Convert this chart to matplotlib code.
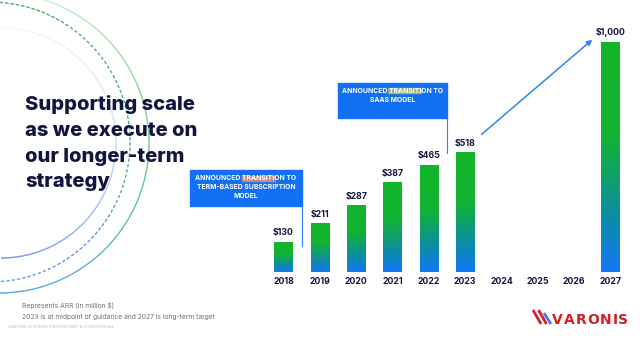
import numpy as np
import matplotlib.pyplot as plt
from matplotlib.colors import LinearSegmentedColormap
from matplotlib.collections import LineCollection
from matplotlib.patches import Rectangle
from matplotlib.transforms import IdentityTransform

plt.rcParams['font.family'] = ['Inter', 'DejaVu Sans']

# ARR in million $, 2024-2026 have no bar
years = ['2018', '2019', '2020', '2021', '2022', '2023', '2024', '2025', '2026', '2027']
arr = [130, 211, 287, 387, 465, 518, np.nan, np.nan, np.nan, 1000]

title_lines = ['Supporting scale', 'as we execute on', 'our longer-term', 'strategy']
notes = ['Represents ARR (in million $)',
         '2023 is at midpoint of guidance and 2027 is long-term target']
box1_lines = ['ANNOUNCED TRANSITION TO', 'TERM-BASED SUBSCRIPTION', 'MODEL']
box2_lines = ['ANNOUNCED TRANSITION TO', 'SAAS MODEL']

navy = '#11153f'
box_blue = '#1170f3'
bar_cmap = LinearSegmentedColormap.from_list(
    'bar', [(0, '#1477f8'), (0.22, '#0b8bab'), (0.45, '#10a45e'), (0.6, '#12b331'), (1, '#12b52a')])

fig = plt.figure(figsize=(6.4, 3.4), dpi=100)

# background layer in pixel units
bg = fig.add_axes([0, 0, 1, 1])
bg.set_xlim(0, 640)
bg.set_ylim(340, 0)
bg.axis('off')


def ring(cx, cy, r, colors, lw, dash=None):
    t = np.linspace(-np.pi / 2, np.pi / 2, 900)
    pts = np.column_stack([cx + r * np.cos(t), cy - r * np.sin(t)])
    segs = np.stack([pts[:-1], pts[1:]], axis=1)
    cols = LinearSegmentedColormap.from_list('', colors)(np.linspace(0, 1, len(segs)))
    if dash:
        s = np.arange(len(segs)) * (np.pi * r / len(segs))
        keep = (s % (dash[0] + dash[1])) < dash[0]
        segs, cols = segs[keep], cols[keep]
    bg.add_collection(LineCollection(segs, colors=cols, linewidths=lw))


ring(1, 143, 115, ['#3a66f2', '#6d95f5', '#b9d0fa', '#e2ecfd', '#f4f8fe'], 0.9)
ring(-1, 143, 150, ['#2b7cf6', '#1aa6a0', '#2fc05a', '#86da95', '#e3f6e5'], 0.9)
ring(-10, 142, 140, ['#2c6cf2', '#2a72e0', '#1f8a6a', '#1c8c40', '#1a8a3a'], 0.9, dash=(3.2, 2.2))

for i, line in enumerate(title_lines):
    bg.text(25, 110 + i * 25.8, line, fontsize=14.5, fontweight='heavy', color=navy, va='baseline')

bg.text(22, 308, notes[0], fontsize=4.8, color='#707070', va='baseline')
bg.text(22, 319, notes[1], fontsize=4.8, color='#707070', va='baseline')
bg.text(8, 328, 'VARONIS SYSTEMS. PROPRIETARY & CONFIDENTIAL.', fontsize=3, color='#bcbcbc', va='baseline')

# logo
for (x0, y0, x1, y1), c in zip([(533, 310, 541, 324), (538.5, 310, 546.5, 324), (544, 313, 551, 324)],
                               ['#d4202a', '#d4202a', '#3a7ef0']):
    bg.plot([x0, x1], [y0, y1], color=c, lw=2.0, solid_capstyle='butt')
lx = 552
for ch, w in zip('VARONIS', [11.5, 12, 11.5, 13, 12.5, 5.5, 10]):
    bg.text(lx, 324.5, ch, fontsize=10, color='#d4202a', family='DejaVu Sans',
            fontweight='semibold', va='baseline')
    lx += w

# bar chart
ax = fig.add_axes([265.3 / 640, 68 / 340, 363.3 / 640, 230 / 340])
ax.set_zorder(2)
ax.patch.set_visible(False)
x = np.arange(len(years))
bars = ax.bar(x, arr, width=0.5, color='none')
grad = np.linspace(0, 1, 256).reshape(-1, 1)
for b, v in zip(bars, arr):
    if np.isnan(v):
        continue
    ax.imshow(grad, extent=[b.get_x(), b.get_x() + b.get_width(), 0, v], aspect='auto',
              origin='lower', cmap=bar_cmap, zorder=2)
    ax.annotate(f'${v:,.0f}', (b.get_x() + b.get_width() / 2, v), xytext=(0, 3.5),
                textcoords='offset points', ha='center', va='bottom', fontsize=6.3,
                fontweight='bold', color=navy)
ax.set_xlim(-0.5, 9.5)
ax.set_ylim(0, 1000)
ax.set_xticks(x, years)
ax.set_yticks([])
ax.tick_params(axis='x', length=0, pad=3.5, labelsize=6.3, labelcolor=navy)
for lbl in ax.get_xticklabels():
    lbl.set_fontweight('bold')
for s in ax.spines.values():
    s.set_visible(False)

# arrow from 2023 to 2027
ax.annotate('', xy=(x[9] - 0.5, arr[9] + 10), xytext=(x[5] + 0.45, arr[5] + 80),
            arrowprops=dict(arrowstyle='-|>', color='#2e86f2', lw=1.1, mutation_scale=8,
                            shrinkA=0, shrinkB=0), annotation_clip=False)

# annotation boxes
box_fs = 4.9
boxes = [(box1_lines, -2.56, 0.5, 287, 443, arr[0] - 15, '#c08a8c'),
         (box2_lines, 1.49, 4.5, 670, 822, arr[5], '#a3b27c')]
first_lines = []
for lines, bx0, bx1, by0, by1, yline, hl in boxes:
    ax.add_patch(Rectangle((bx0, by0), bx1 - bx0, by1 - by0, color=box_blue, clip_on=False, zorder=3))
    ax.plot([bx1, bx1], [by0, yline], color='#2d7ff5', lw=0.8, clip_on=False, zorder=3)
    cx = (bx0 + bx1) / 2
    for j, line in enumerate(lines):
        t = ax.text(cx, by1 - 35 - j * 38, line, ha='center', va='center', fontsize=box_fs,
                    fontweight='bold', color='white', zorder=5, clip_on=False)
        if j == 0:
            first_lines.append((t, hl))

# highlight "TRANSITI" in the first line of each box
fig.canvas.draw()
rend = fig.canvas.get_renderer()


def text_width(s):
    tmp = ax.text(0, 0, s, fontsize=box_fs, fontweight='bold')
    w = tmp.get_window_extent(rend).width
    tmp.remove()
    return w


for t, hl in first_lines:
    bb = t.get_window_extent(rend)
    right = bb.x0 + text_width('ANNOUNCED TRANSITI')
    w = text_width('TRANSITI')
    ax.add_artist(Rectangle((right - w - 0.5, bb.y0 + 0.5), w + 1, bb.height - 1, color=hl,
                            transform=IdentityTransform(), zorder=4, clip_on=False))

fig.savefig('out.png', dpi=100)
